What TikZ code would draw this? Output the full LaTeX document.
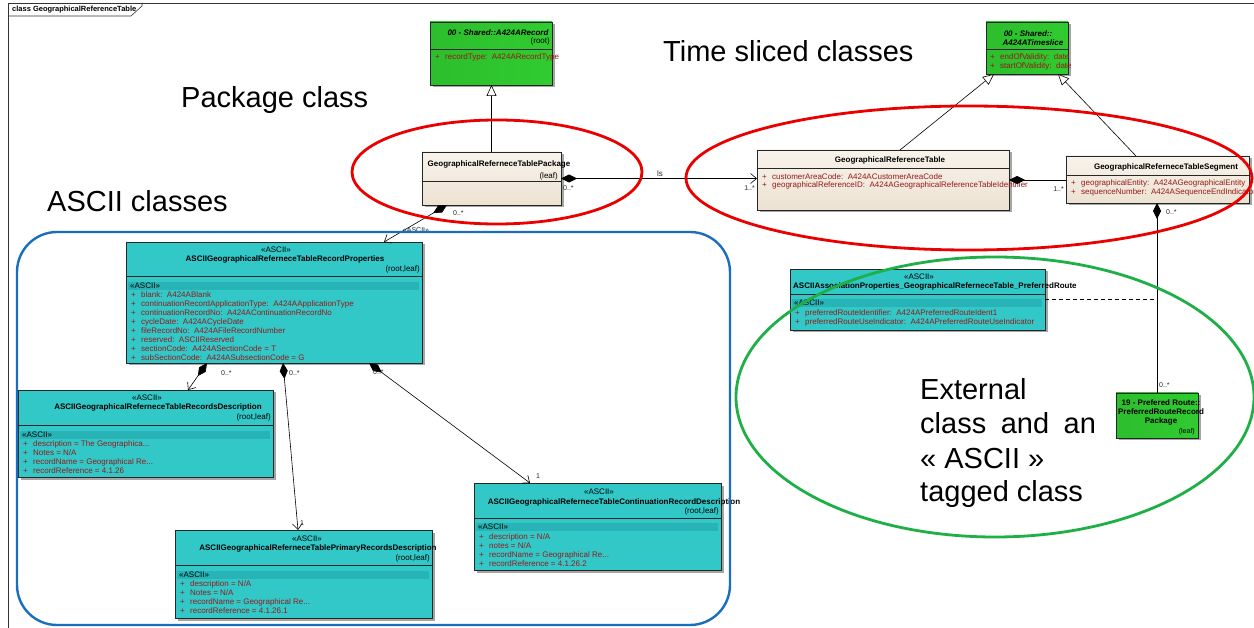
\documentclass[tikz,border=0pt]{standalone}
\usepackage{fontspec}
\setmainfont{Liberation Sans}
\usetikzlibrary{arrows.meta,shadows,calc}

\definecolor{clsgreen}{RGB}{48,204,48}
\definecolor{clsteal}{RGB}{50,200,200}
\definecolor{clsband}{RGB}{40,180,182}
\definecolor{clsbeigeA}{RGB}{248,243,235}
\definecolor{clsbeigeB}{RGB}{236,226,210}
\definecolor{attrred}{RGB}{150,25,25}
\definecolor{hlred}{RGB}{235,0,0}
\definecolor{hlgreen}{RGB}{30,175,70}
\definecolor{hlblue}{RGB}{25,110,190}

\tikzset{
  cls/.style={draw=black!85, line width=0.7pt, anchor=north west, inner sep=0pt, outer sep=0pt,
    drop shadow={shadow xshift=2.5pt, shadow yshift=-2.5pt, fill=black!50, opacity=0.7}},
  greencls/.style={cls, left color=clsgreen!93!black, right color=clsgreen},
  tealcls/.style={cls, fill=clsteal},
  beigecls/.style={cls, top color=clsbeigeA, bottom color=clsbeigeB},
  sep/.style={draw=black!85, line width=0.8pt},
  txt/.style={inner sep=0pt, font=\fontsize{8}{9}\selectfont, text height=5.8pt, text depth=1.6pt},
  ttl/.style={txt, font=\fontsize{8}{9}\selectfont\bfseries},
  attr/.style={txt, anchor=west, text=attrred},
  mult/.style={inner sep=0pt, font=\fontsize{7}{8}\selectfont, text=black!85},
  big/.style={inner sep=0pt, anchor=base west, font=\fontsize{29}{34}\selectfont},
  framel/.style={draw=black!80, line width=0.6pt},
  conn/.style={draw=black, line width=0.6pt},
  gen/.style={conn, -{Triangle[open, fill=white, length=11pt, width=10pt]}},
  comp/.style={conn, {Diamond[fill=black, length=16pt, width=8pt]}-{Straight Barb[length=6pt, width=10pt]}},
  compd/.style={conn, {Diamond[fill=black, length=16pt, width=8pt]}-},
  hl/.style={line width=2.8pt},
}

% truncated values end in three periods
\newcommand\trunc{...}
% one compartment line per entry: "+" then the attribute text
\newcommand\attrlist[5]{%
  \foreach \a [count=\i from 0] in {#5}
    \node[attr] (#1-\i) at (#2, #3+#4*\i) {\makebox[10pt][l]{+}\a};}
% tagged compartment header band
\newcommand\tagband[4]{%
  \fill[clsband] (#2+2, #4-4) rectangle (#3-3, #4+4);
  \node[txt, anchor=west] (#1) at (#2+4, #4) {«ASCII»};}

\begin{document}
\begin{tikzpicture}[x=1pt,y=-1pt]
\useasboundingbox (0,0) rectangle (1254,628);
\fill[white] (0,0) rectangle (1254,628);
\clip (0,0) rectangle (1254,628);

% diagram frame
\draw[framel] (8,628) -- (8,3) -- (1254,3);
\draw[framel] (8,16) -- (131,16) -- (142,6) -- (142,3);
\node[inner sep=0pt, anchor=west, font=\fontsize{7.5}{9}\selectfont\bfseries] (frametitle) at (12,10) {class GeographicalReferenceTable};

% ---------- class boxes ----------
% Shared record
\node[greencls, minimum width=122pt, minimum height=63pt] (rec) at (430,22) {};
\draw[sep] (430,49) -- (552,49);
\node[ttl, font=\fontsize{8}{9}\selectfont\bfseries\itshape] (rec-t) at (498,33) {00 - Shared::A424ARecord};
\node[txt, anchor=east] (rec-s) at (550,41) {(root)};
\attrlist{rec-a}{435}{57}{9}{recordType:~~A424ARecordType}

% Shared timeslice
\node[greencls, minimum width=82pt, minimum height=52pt] (ts) at (986,22) {};
\draw[sep] (986,49) -- (1068,49);
\node[ttl, font=\fontsize{8}{9}\selectfont\bfseries\itshape] (ts-t1) at (1028,34) {00 - Shared::};
\node[ttl, font=\fontsize{8}{9}\selectfont\bfseries\itshape] (ts-t2) at (1033,43) {A424ATimeslice};
\attrlist{ts-a}{990}{57}{9}{endOfValidity:~~date, startOfValidity:~~date}

% package class
\node[beigecls, minimum width=139pt, minimum height=53pt] (pkg) at (422,152) {};
\draw[sep] (422,181) -- (561,181);
\node[ttl] (pkg-t) at (499,164) {GeographicalReferneceTablePackage};
\node[txt, anchor=east] (pkg-s) at (558,176) {(leaf)};

% time sliced classes
\node[beigecls, minimum width=252pt, minimum height=60pt] (tbl) at (757,150) {};
\draw[sep] (757,168) -- (1009,168);
\node[ttl] (tbl-t) at (890,160) {GeographicalReferenceTable};
\attrlist{tbl-a}{762}{177}{8.5}{customerAreaCode:~~A424ACustomerAreaCode, geographicalReferenceID:~~A424AGeographicalReferenceTableIdentifier}

\node[beigecls, minimum width=183pt, minimum height=47pt] (seg) at (1066,156) {};
\draw[sep] (1066,175) -- (1249,175);
\node[ttl] (seg-t) at (1166,167) {GeographicalReferneceTableSegment};
\attrlist{seg-a}{1071}{183}{9}{geographicalEntity:~~A424AGeographicalEntity, sequenceNumber:~~A424ASequenceEndIndicator}

% association class
\node[tealcls, minimum width=255pt, minimum height=61pt] (assoc) at (790,269) {};
\draw[sep] (790,294) -- (1045,294);
\node[txt] (assoc-k) at (919,277) {«ASCII»};
\node[ttl, anchor=west] (assoc-t) at (793,286) {ASCIIAssociationProperties\_GeographicalReferneceTable\_PreferredRoute};
\tagband{assoc-g}{790}{1045}{303}
\attrlist{assoc-a}{795}{313}{9}{preferredRouteIdentifier:~~A424APreferredRouteIdent1, preferredRouteUseIndicator:~~A424APreferredRouteUseIndicator}

% external class
\node[greencls, minimum width=82pt, minimum height=45pt] (route) at (1116,393) {};
\node[ttl] (route-t1) at (1161,403) {19 - Prefered Route::};
\node[ttl] (route-t2) at (1161,412) {PreferredRouteRecord};
\node[ttl] (route-t3) at (1161,421) {Package};
\node[txt, font=\fontsize{7}{9}\selectfont, anchor=east] (route-s) at (1195,431) {(leaf)};

% ASCII record properties
\node[tealcls, minimum width=296pt, minimum height=121pt] (main) at (126,242) {};
\draw[sep] (126,276) -- (422,276);
\node[txt] (main-k) at (276,250) {«ASCII»};
\node[ttl] (main-t) at (285,259) {ASCIIGeographicalReferneceTableRecordProperties};
\node[txt, anchor=east] (main-s) at (420,269) {(root,leaf)};
\tagband{main-g}{126}{422}{286}
\attrlist{main-a}{131}{295}{9}{blank:~~A424ABlank, continuationRecordApplicationType:~~A424AApplicationType, continuationRecordNo:~~A424AContinuationRecordNo, cycleDate:~~A424ACycleDate, fileRecordNo:~~A424AFileRecordNumber, reserved:~~ASCIIReserved, sectionCode:~~A424ASectionCode = T, subSectionCode:~~A424ASubsectionCode = G}

% records description
\node[tealcls, minimum width=255pt, minimum height=87pt] (rd) at (18,390) {};
\draw[sep] (18,425) -- (273,425);
\node[txt] (rd-k) at (147,398) {«ASCII»};
\node[ttl] (rd-t) at (158,407) {ASCIIGeographicalReferneceTableRecordsDescription};
\node[txt, anchor=east] (rd-s) at (271,417) {(root,leaf)};
\tagband{rd-g}{18}{273}{435}
\attrlist{rd-a}{23}{444}{9}{description = The Geographica\trunc, Notes = N/A, recordName = Geographical Re\trunc, recordReference = 4.1.26}

% continuation record description
\node[tealcls, minimum width=247pt, minimum height=87pt] (cont) at (474,483) {};
\draw[sep] (474,518) -- (721,518);
\node[txt] (cont-k) at (599,492) {«ASCII»};
\node[ttl] (cont-t) at (614,502) {ASCIIGeographicalReferneceTableContinuationRecordDescription};
\node[txt, anchor=east] (cont-s) at (719,511) {(root,leaf)};
\tagband{cont-g}{474}{721}{527}
\attrlist{cont-a}{479}{537}{9}{description = N/A, notes = N/A, recordName = Geographical Re\trunc, recordReference = 4.1.26.2}

% primary records description
\node[tealcls, minimum width=257pt, minimum height=88pt] (prim) at (175,530) {};
\draw[sep] (175,565) -- (432,565);
\node[txt] (prim-k) at (307,539) {«ASCII»};
\node[ttl] (prim-t) at (318,548) {ASCIIGeographicalReferneceTablePrimaryRecordsDescription};
\node[txt, anchor=east] (prim-s) at (430,558) {(root,leaf)};
\tagband{prim-g}{175}{432}{575}
\attrlist{prim-a}{180}{584}{9}{description = N/A, Notes = N/A, recordName = Geographical Re\trunc, recordReference = 4.1.26.1}

% ---------- connectors ----------
\draw[gen] (pkg.north) -- (pkg.north |- rec.south);
\draw[gen] ($(tbl.north west)+(143,0)$) -- ($(ts.south west)+(8,0)$);
\draw[gen] ($(seg.north west)+(70,0)$) -- ($(ts.south west)+(72,0)$);

\draw[comp] (pkg.east) -- (pkg.east -| tbl.west);
\node[mult, font=\fontsize{8}{9}\selectfont] (ls) at (660,174) {ls};
\node[mult, anchor=west] (m1) at (563,188) {0..*};
\node[mult, anchor=east] (m2) at (755,188) {1..*};

\draw[compd] (tbl.east) -- (tbl.east -| seg.west);
\node[mult, anchor=east] (m3) at (1064,189) {1..*};

\coordinate (segfoot) at (route.north |- seg.south);
\draw[compd] (segfoot) -- (route.north);
\node[mult, anchor=west] (m4) at (1166,212) {0..*};
\node[mult, anchor=west] (m5) at (1159,385) {0..*};

\coordinate (assoclink) at (route.north |- assoc.east);
\draw[conn, dash pattern=on 4pt off 3pt] (assoc.east) -- (assoclink);

\draw[comp] ($(pkg.south west)+(25,0)$) -- ($(main.north west)+(258,0)$);
\node[mult, anchor=west] (m6) at (453,213) {0..*};
\node[mult] (m7) at (416,230) {«ASCII»};

\draw[comp] ($(main.south west)+(81,0)$) -- ($(rd.north west)+(170,0)$);
\node[mult, anchor=west] (m8) at (221,373) {0..*};
\draw[comp] ($(main.south west)+(157,0)$) -- ($(prim.north west)+(123,0)$);
\node[mult, anchor=west] (m9) at (289,373) {0..*};
\node[mult, anchor=west] (m10) at (300,523) {1};
\draw[comp] ($(main.south west)+(243,0)$) -- ($(cont.north west)+(56,0)$);
\node[mult, anchor=west] (m11) at (373,372) {0..*};
\node[mult, anchor=west] (m12) at (536,476) {1};

% ---------- highlight marks ----------
\draw[hl, hlred] (497,172) ellipse [x radius=145, y radius=52];
\draw[hl, hlred] (969,178) ellipse [x radius=283, y radius=72];
\draw[hl, hlgreen] (995,397) ellipse [x radius=259, y radius=140];
\draw[line width=2.4pt, hlblue, rounded corners=40pt] (17,232) rectangle (730,625);

% ---------- annotations ----------
\node[big] (lbl-pkg) at (181,108) {Package class};
\node[big] (lbl-time) at (663,62) {Time sliced classes};
\node[big] (lbl-ascii) at (47,212) {ASCII classes};
\node[big] (lbl-ext1) at (920,400) {External};
\node[big] (lbl-ext2) at (920,434) {class\hspace{14.5pt}and\hspace{14.5pt}an};
\node[big] (lbl-ext3) at (920,468) {« ASCII »};
\node[big] (lbl-ext4) at (920,501) {tagged class};
\end{tikzpicture}
\end{document}
